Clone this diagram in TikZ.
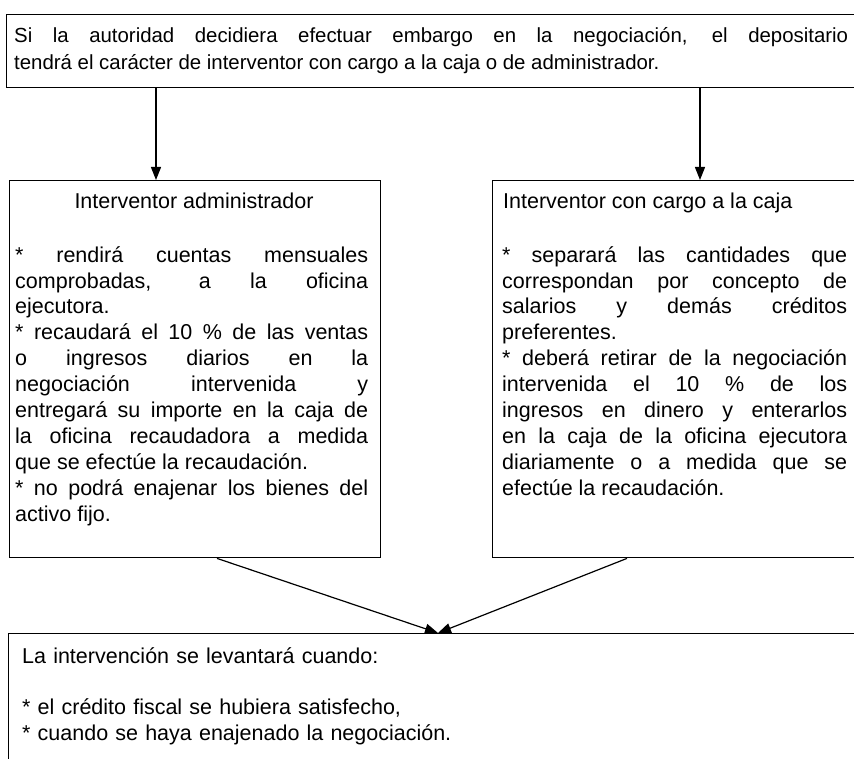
\documentclass[tikz,border=0pt]{standalone}
\usepackage{fontspec}
\setmainfont{Liberation Sans}
\usetikzlibrary{arrows.meta}
\tikzset{
  boxsty/.style={draw=black, line width=1.4pt, rectangle, inner sep=0pt, anchor=north west},
  txt/.style={inner sep=0pt, anchor=north west, align=justify},
  headtxt/.style={inner sep=0pt, anchor=base},
  arr/.style={line width=1.2pt, -{Triangle[length=13pt,width=10pt]}},
  bodyfont/.style={font=\fontsize{21.5}{25.9}\selectfont},
  topfont/.style={font=\fontsize{20.4}{27}\selectfont},
}
\newcommand{\jpar}{\tolerance=10000\hyphenpenalty=10000\exhyphenpenalty=10000\parindent=0pt\strut}
\begin{document}
\begin{tikzpicture}[x=1pt,y=-1pt]
\useasboundingbox (0,0) rectangle (854,759);
\clip (0,0) rectangle (854,759);
% boxes
\node[boxsty, minimum width=880pt, minimum height=73pt] (top) at (6,14) {};
\node[boxsty, minimum width=371pt, minimum height=377pt] (lbox) at (9,180) {};
\node[boxsty, minimum width=400pt, minimum height=377pt] (rbox) at (492,180) {};
\node[boxsty, minimum width=880pt, minimum height=160pt] (bbox) at (8,633) {};
% texts
\node[txt, topfont, text width=834pt] (toptext) at (14,42-18.9) {\jpar Si la autoridad decidiera efectuar embargo en la negociación, el depositario\linebreak tendrá el carácter de interventor con cargo a la caja o de administrador.};
\node[headtxt, bodyfont] (lhead) at (194,209) {Interventor administrador};
\node[txt, bodyfont, text width=353pt] (ltext) at (15,262-18.13) {\jpar
* rendirá cuentas mensuales\linebreak comprobadas, a la oficina\linebreak ejecutora.\par
* recaudará el 10 \% de las ventas\linebreak o ingresos diarios en la\linebreak negociación intervenida y\linebreak entregará su importe en la caja de\linebreak la oficina recaudadora a medida\linebreak que se efectúe la recaudación.\par
* no podrá enajenar los bienes del\linebreak activo fijo.};
\node[headtxt, bodyfont, anchor=base west] (rhead) at (503,209) {Interventor con cargo a la caja};
\node[txt, bodyfont, text width=345pt] (rtext) at (502,262-18.13) {\jpar
* separará las cantidades que\linebreak correspondan por concepto de\linebreak salarios y demás créditos\linebreak preferentes.\par
* deberá retirar de la negociación\linebreak intervenida el 10 \% de los\linebreak ingresos en dinero y enterarlos\linebreak en la caja de la oficina ejecutora\linebreak diariamente o a medida que se\linebreak efectúe la recaudación.};
\node[txt, bodyfont, text width=700pt, align=left] (btext) at (22,663-18.2) {\parindent=0pt\strut La intervención se levantará cuando:\par\mbox{}\par
* el crédito fiscal se hubiera satisfecho,\par
* cuando se haya enajenado la negociación.};
% connector positions
\coordinate (lx) at (156,0);
\coordinate (rx) at (700,0);
\coordinate (ld) at (217,0);
\coordinate (rd) at (627,0);
\coordinate (mid) at (438,0);
\draw[arr] (top.south -| lx) -- (lbox.north -| lx);
\draw[arr] (top.south -| rx) -- (rbox.north -| rx);
\draw[arr] (lbox.south -| ld) -- (bbox.north -| mid);
\draw[arr] (rbox.south -| rd) -- (bbox.north -| mid);
\end{tikzpicture}
\end{document}
